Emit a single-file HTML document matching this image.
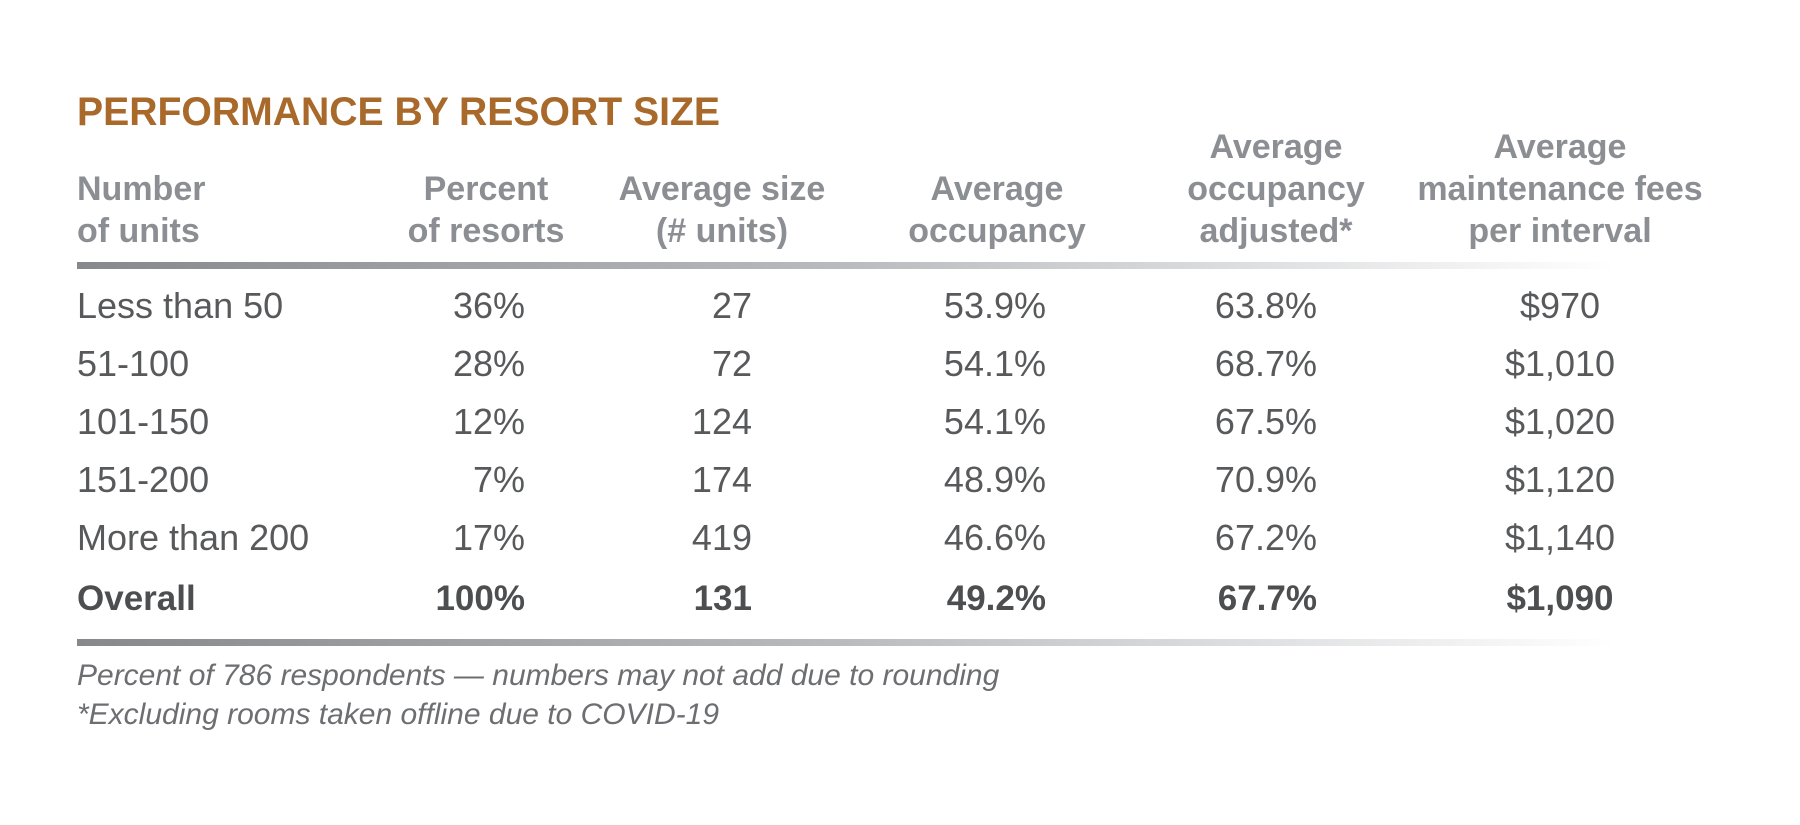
<!DOCTYPE html>
<html><head><meta charset="utf-8"><style>
html,body{margin:0;padding:0;background:#fff;}
svg{display:block;}
text{font-family:"Liberation Sans",sans-serif;}
.h{fill:#8b8e92;font-size:34px;font-weight:bold;}
.b{fill:#58595b;font-size:36px;}
.bb{fill:#4d4e50;font-size:35px;font-weight:bold;}
.f{fill:#6d6e71;font-size:30px;font-style:italic;}
</style></head><body>
<svg width="1800" height="825" viewBox="0 0 1800 825">
<defs>
<linearGradient id="g" x1="0" x2="1" y1="0" y2="0">
<stop offset="0" stop-color="#86888c"/><stop offset="0.5" stop-color="#b9bbbe"/><stop offset="1" stop-color="#ffffff"/>
</linearGradient>
</defs>
<text x="77" y="125" font-size="40" font-weight="bold" fill="#a8692a" textLength="643" lengthAdjust="spacingAndGlyphs">PERFORMANCE BY RESORT SIZE</text>
<g class="h">
<text x="77" y="200">Number</text><text x="77" y="242">of units</text>
<g text-anchor="middle">
<text x="486" y="200">Percent</text><text x="486" y="242">of resorts</text>
<text x="722" y="200">Average size</text><text x="722" y="242">(# units)</text>
<text x="997" y="200">Average</text><text x="997" y="242">occupancy</text>
<text x="1276" y="158">Average</text><text x="1276" y="200">occupancy</text><text x="1276" y="242">adjusted*</text>
<text x="1560" y="158">Average</text><text x="1560" y="200">maintenance fees</text><text x="1560" y="242">per interval</text>
</g></g>
<rect x="77" y="262" width="1540" height="7" fill="url(#g)"/>
<g class="b">
<text x="77" y="318">Less than 50</text><text x="77" y="376">51-100</text><text x="77" y="434">101-150</text><text x="77" y="492">151-200</text><text x="77" y="550">More than 200</text>
<g text-anchor="end">
<text x="525" y="318">36%</text><text x="525" y="376">28%</text><text x="525" y="434">12%</text><text x="525" y="492">7%</text><text x="525" y="550">17%</text>
<text x="752" y="318">27</text><text x="752" y="376">72</text><text x="752" y="434">124</text><text x="752" y="492">174</text><text x="752" y="550">419</text>
<text x="1046" y="318">53.9%</text><text x="1046" y="376">54.1%</text><text x="1046" y="434">54.1%</text><text x="1046" y="492">48.9%</text><text x="1046" y="550">46.6%</text>
<text x="1317" y="318">63.8%</text><text x="1317" y="376">68.7%</text><text x="1317" y="434">67.5%</text><text x="1317" y="492">70.9%</text><text x="1317" y="550">67.2%</text>
</g>
<g text-anchor="middle">
<text x="1560" y="318">$970</text><text x="1560" y="376">$1,010</text><text x="1560" y="434">$1,020</text><text x="1560" y="492">$1,120</text><text x="1560" y="550">$1,140</text>
</g></g>
<g class="bb">
<text x="77" y="610">Overall</text>
<text x="525" y="610" text-anchor="end">100%</text>
<text x="752" y="610" text-anchor="end">131</text>
<text x="1046" y="610" text-anchor="end">49.2%</text>
<text x="1317" y="610" text-anchor="end">67.7%</text>
<text x="1560" y="610" text-anchor="middle">$1,090</text>
</g>
<rect x="77" y="639" width="1540" height="7" fill="url(#g)"/>
<text class="f" x="77" y="685">Percent of 786 respondents — numbers may not add due to rounding</text>
<text class="f" x="77" y="724">*Excluding rooms taken offline due to COVID-19</text>
</svg>
</body></html>
